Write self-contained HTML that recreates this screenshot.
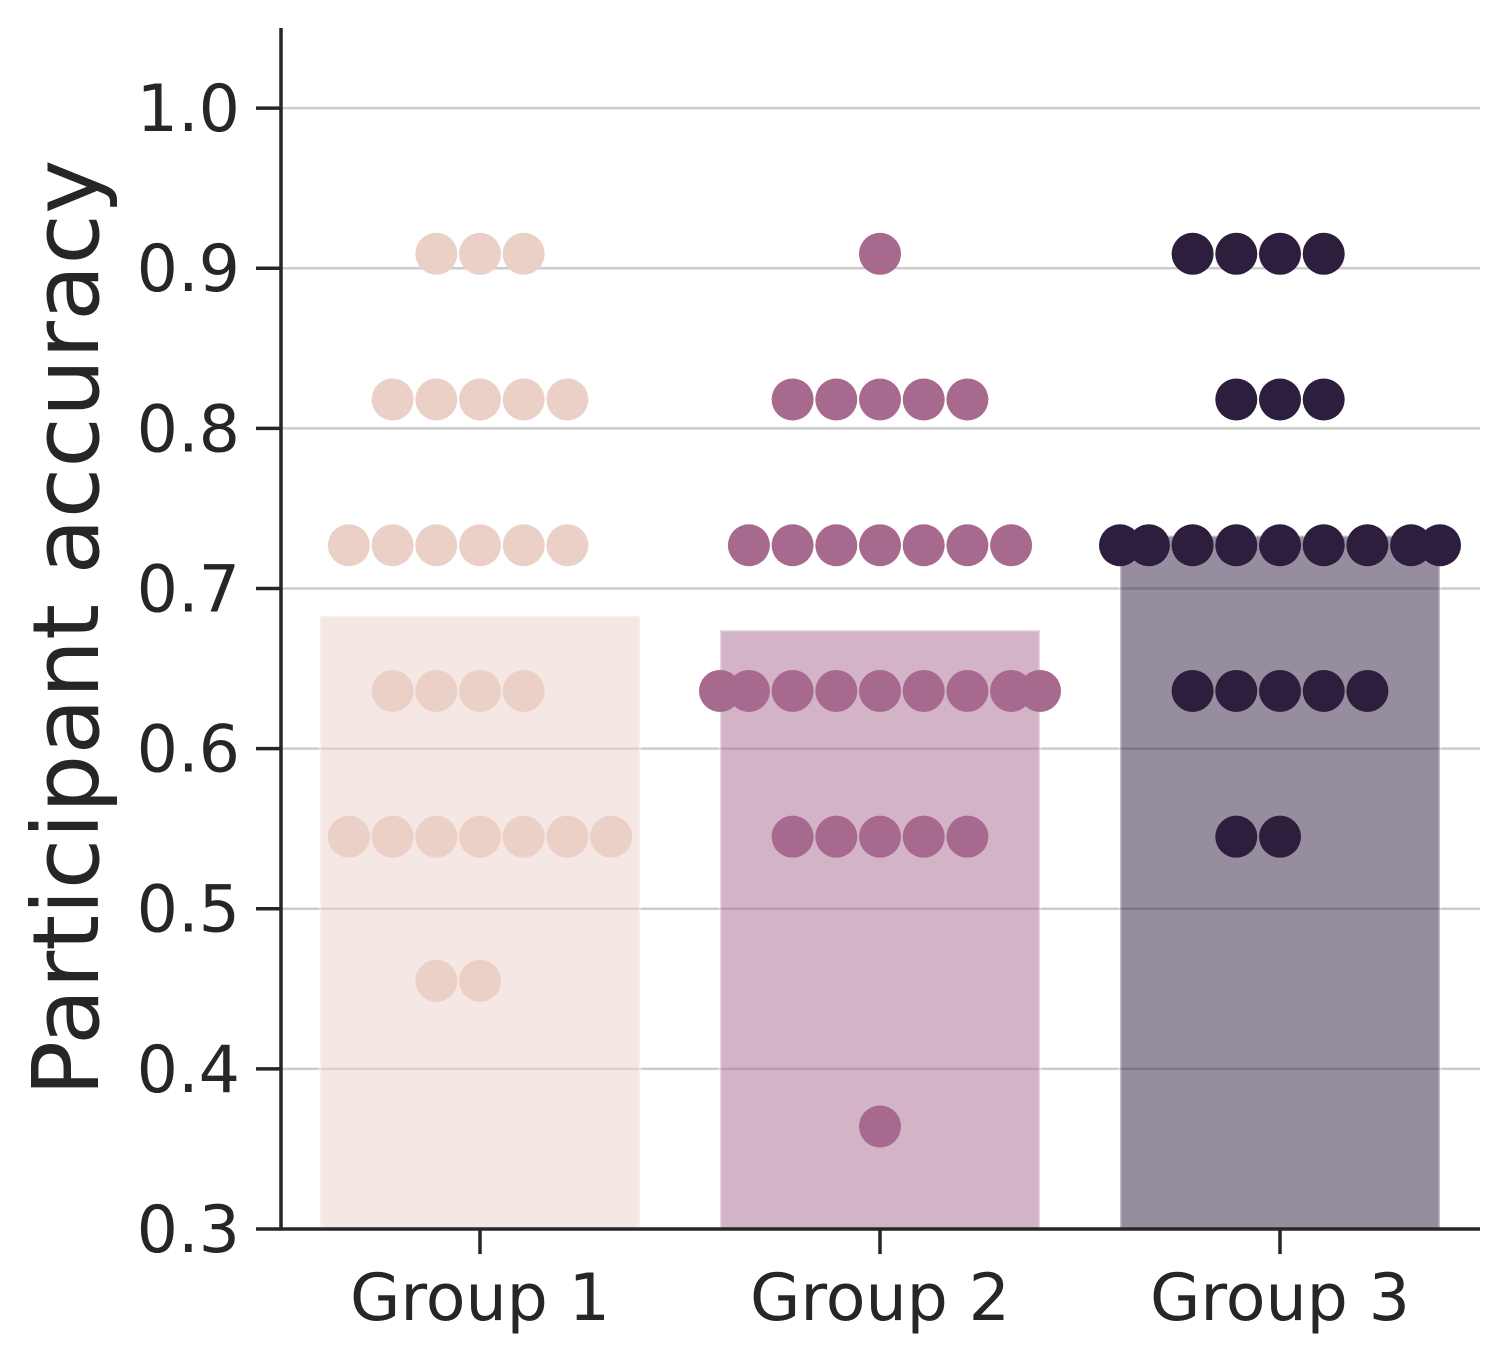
<!DOCTYPE html>
<html><head><meta charset="utf-8"><style>
body{margin:0;background:#fff}
svg text{font-family:"DejaVu Sans","Liberation Sans",sans-serif;fill:#262626}
</style></head><body>
<svg id="c" width="1510" height="1363" xmlns="http://www.w3.org/2000/svg"></svg>
<script>
const categories=["Group 1","Group 2","Group 3"];
const barMeans=[0.683,0.674,0.733];
const dotLevels=[0.909,0.818,0.727,0.636,0.545,0.455,0.364];
const group1Counts=[3,5,6,4,7,2,0];
const group2Counts=[1,5,7,9,5,0,1];
const group3Counts=[4,3,9,5,2,0,0];
const yTicks=[0.3,0.4,0.5,0.6,0.7,0.8,0.9,1.0];
const dotColors=["#ebd0c8","#a8698e","#2d1e3e"];
const counts=[group1Counts,group2Counts,group3Counts];
const NS="http://www.w3.org/2000/svg";
const svg=document.getElementById('c');
const L=281,R=1480,T=28,B=1229,yMin=0.3,yMax=1.05;
const y=v=>B-(v-yMin)/(yMax-yMin)*(B-T);
const x=i=>480+i*400;
function mk(t,a,p){const e=document.createElementNS(NS,t);for(const k in a)e.setAttribute(k,a[k]);(p||svg).appendChild(e);return e;}
yTicks.forEach(v=>{
  if(v>0.3){const g=mk('line',{x1:L,x2:R,y1:y(v),y2:y(v),stroke:'#cccccc','stroke-width':2.5});
  
  }
  const tk=mk('line',{x1:L-25,x2:L,y1:y(v),y2:y(v),stroke:'#262626','stroke-width':3.5});
  
  
  const t=mk('text',{x:240,y:y(v)+23,'font-size':65,'text-anchor':'end'});t.textContent=v.toFixed(1);
  
  
});
categories.forEach((c,i)=>{
  const b=mk('rect',{x:x(i)-160,y:y(barMeans[i]),width:320,height:B-y(barMeans[i]),fill:dotColors[i],'fill-opacity':0.5,stroke:'#ffffff','stroke-opacity':0.4,'stroke-width':3});
  
  
});
categories.forEach((c,i)=>{
  dotLevels.forEach((lv,j)=>{
    const n=counts[i][j];
    for(let k=0;k<n;k++){
      const m=Math.ceil(k/2);const off=(k%2===1)?-m:m;
      let cx=x(i)+off*43.7;cx=Math.max(x(i)-160,Math.min(x(i)+160,cx));
      const d=mk('circle',{cx:cx,cy:y(lv),r:21,fill:dotColors[i]});
      
      
    }
  });
  const tk=mk('line',{x1:x(i),x2:x(i),y1:B,y2:B+25,stroke:'#262626','stroke-width':3.5});
  
  
  const t=mk('text',{x:x(i),y:1320,'font-size':65,'text-anchor':'middle'});t.textContent=c;
  
  
});
const sp=mk('path',{d:`M${L} ${T}V${B}H${R}`,fill:'none',stroke:'#262626','stroke-width':3.5});


const yl=mk('text',{x:0,y:0,'font-size':92,'text-anchor':'middle',transform:'translate(98,628) rotate(-90)'});
yl.textContent='Participant accuracy';


</script>
</body></html>
